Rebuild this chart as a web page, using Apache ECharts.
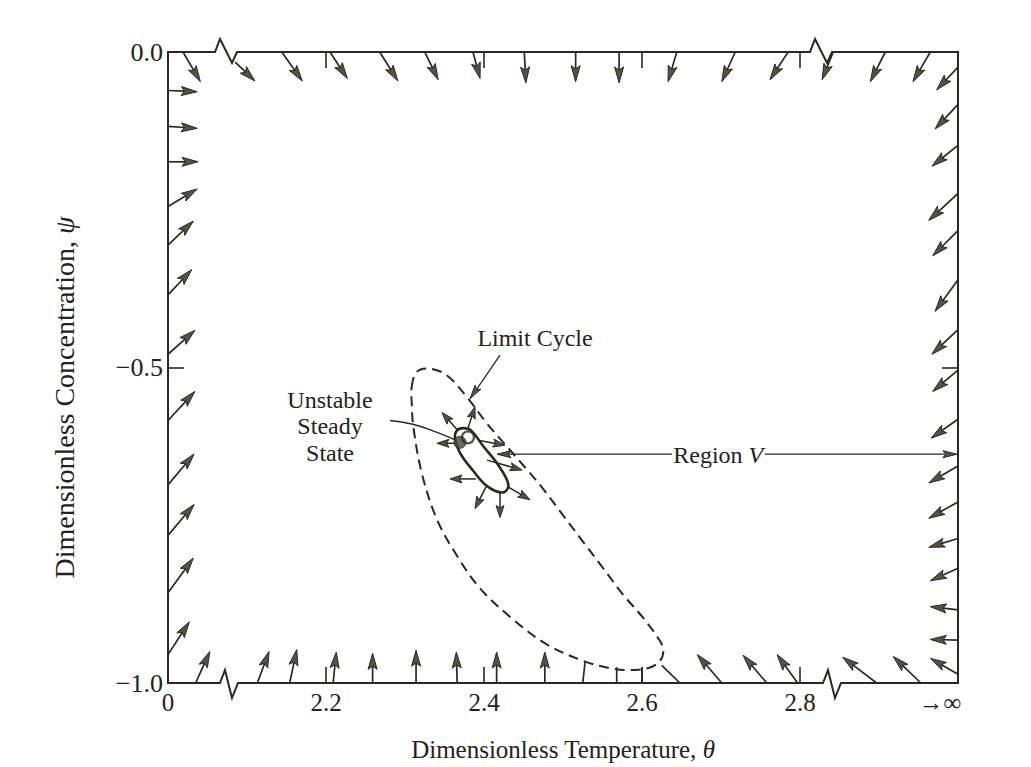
<!DOCTYPE html>
<html>
<head>
<meta charset="utf-8">
<script src="https://cdn.jsdelivr.net/npm/echarts@6/dist/echarts.min.js"></script>
<style>
  html, body { margin: 0; padding: 0; background: #ffffff; }
  #chart { width: 1031px; height: 767px; }
</style>
</head>
<body>
<div id="chart"></div>
<script>
// Phase plane of the reactor: dimensionless temperature θ against concentration ψ.
// The θ axis is broken: display value 2.0 stands for θ = 0, and 3.0 for θ → ∞.
const thetaTicks = [2.0, 2.2, 2.4, 2.6, 2.8, 3.0];
const thetaTickLabels = ['0', '2.2', '2.4', '2.6', '2.8', '→∞'];
const psiTicks = [0, -0.5, -1.0];
const psiTickLabels = ['0.0', '−0.5', '−1.0'];

// Where the θ axis is cut on the upper and lower edges (display units)
const topBreaks = [2.0595, 2.8127];
const bottomBreaks = [2.0658, 2.8291];

// Direction field on the boundary: [θ tail, ψ tail, θ head, ψ head]
const topArrows = [
  [2.019, 0, 2.041, -0.047],
  [2.085, -0.016, 2.110, -0.046],
  [2.144, 0, 2.170, -0.046],
  [2.205, 0, 2.227, -0.042],
  [2.268, 0, 2.291, -0.046],
  [2.325, 0, 2.342, -0.044],
  [2.386, 0, 2.395, -0.042],
  [2.451, 0, 2.453, -0.049],
  [2.516, 0, 2.516, -0.047],
  [2.571, 0, 2.571, -0.049],
  [2.644, 0, 2.633, -0.047],
  [2.718, 0, 2.701, -0.047],
  [2.785, 0, 2.762, -0.044],
  [2.842, 0, 2.828, -0.044],
  [2.908, 0, 2.889, -0.047],
  [2.965, 0, 2.943, -0.047]
];
const rightArrows = [
  [3.0, -0.024, 2.973, -0.060],
  [3.0, -0.083, 2.971, -0.122],
  [3.0, -0.148, 2.967, -0.181],
  [3.0, -0.224, 2.963, -0.267],
  [3.0, -0.283, 2.968, -0.323],
  [3.0, -0.361, 2.971, -0.411],
  [3.0, -0.440, 2.967, -0.479],
  [3.0, -0.504, 2.968, -0.538],
  [3.0, -0.582, 2.966, -0.612],
  [3.0, -0.656, 2.963, -0.683],
  [3.0, -0.713, 2.963, -0.739],
  [3.0, -0.771, 2.963, -0.785],
  [3.0, -0.818, 2.965, -0.838],
  [3.0, -0.884, 2.965, -0.879],
  [3.0, -0.932, 2.965, -0.931],
  [3.0, -0.986, 2.965, -0.961]
];
const leftArrows = [
  [2.0, -0.061, 2.037, -0.063],
  [2.0, -0.118, 2.037, -0.121],
  [2.0, -0.174, 2.038, -0.174],
  [2.0, -0.245, 2.037, -0.217],
  [2.0, -0.306, 2.032, -0.268],
  [2.0, -0.385, 2.030, -0.345],
  [2.0, -0.479, 2.034, -0.441],
  [2.0, -0.584, 2.034, -0.538],
  [2.0, -0.686, 2.033, -0.637],
  [2.0, -0.766, 2.033, -0.717],
  [2.0, -0.857, 2.032, -0.802],
  [2.0, -0.955, 2.027, -0.903]
];
const bottomArrows = [
  [2.035, -1, 2.053, -0.950],
  [2.113, -1, 2.128, -0.950],
  [2.154, -1, 2.163, -0.947],
  [2.209, -1, 2.213, -0.951],
  [2.259, -1, 2.259, -0.953],
  [2.314, -1, 2.314, -0.948],
  [2.366, -1, 2.365, -0.951],
  [2.416, -1, 2.416, -0.951],
  [2.477, -1, 2.477, -0.951],
  [2.701, -1, 2.670, -0.955],
  [2.758, -1, 2.728, -0.956],
  [2.797, -1, 2.771, -0.955],
  [2.897, -1, 2.854, -0.959],
  [2.953, -1, 2.918, -0.958]
];
// Trajectories from the lower edge that run into the limit cycle
const trajectoryEnds = [
  [2.525, -1, 2.528, -0.966],
  [2.568, -1, 2.568, -0.975],
  [2.600, -1, 2.600, -0.975],
  [2.648, -1, 2.625, -0.972]
];

// Limit cycle (closed orbit), traced clockwise from the upper tip
const limitCycle = [
  [2.3085, -0.5306], [2.3148, -0.5071], [2.3316, -0.5019], [2.3528, -0.5122],
  [2.3781, -0.5463], [2.4034, -0.5882], [2.4287, -0.6248], [2.4541, -0.6614],
  [2.4751, -0.6928], [2.5004, -0.7347], [2.5257, -0.7766], [2.5510, -0.8184],
  [2.5763, -0.8603], [2.6016, -0.8969], [2.6228, -0.9336], [2.6270, -0.9493],
  [2.6228, -0.9650], [2.6101, -0.9754], [2.5848, -0.9796], [2.5595, -0.9765],
  [2.5257, -0.9650], [2.4794, -0.9388], [2.4371, -0.8995], [2.3949, -0.8498],
  [2.3654, -0.7975], [2.3401, -0.7399], [2.3211, -0.6667], [2.3105, -0.5934],
  [2.3085, -0.5568]
];
// Small orbit around the unstable steady state (region V boundary)
const innerOrbit = [
  [2.3738, -0.5961], [2.3835, -0.5997], [2.3991, -0.6248], [2.4161, -0.6510],
  [2.4287, -0.6771], [2.4304, -0.6907], [2.4224, -0.6981], [2.4034, -0.6876],
  [2.3865, -0.6641], [2.3696, -0.6353], [2.3633, -0.6122], [2.3658, -0.5997]
];
const steadyState = [2.3696, -0.6185];
const steadyRing = [2.3797, -0.6107];

// Flow leaving the small orbit: [θ tail, ψ tail, θ head, ψ head]
const orbitArrows = [
  [2.3658, -0.5981, 2.3468, -0.5714],
  [2.3797, -0.5965, 2.3886, -0.5620],
  [2.3924, -0.6154, 2.4266, -0.6232],
  [2.4038, -0.6468, 2.4481, -0.6625],
  [2.3658, -0.6201, 2.3405, -0.6201],
  [2.3899, -0.6766, 2.3570, -0.6766],
  [2.4025, -0.6892, 2.3886, -0.7237],
  [2.4203, -0.6986, 2.4203, -0.7378],
  [2.4304, -0.6892, 2.4582, -0.7096]
];

// Callout pointers and labels
const pointerArrows = [
  [2.4203, -0.4804, 2.3823, -0.5495],
  [2.6380, -0.6374, 2.4165, -0.6374],
  [2.7557, -0.6374, 2.9987, -0.6374]
];
const steadyLeader = [[2.281, -0.584], [2.310, -0.590], [2.3405, -0.6028], [2.3646, -0.6154]];
const noteTexts = ['Limit Cycle', 'Unstable\nSteady\nState', 'Region {i|V}'];
const notePositions = [[2.4646, -0.4537], [2.2051, -0.5934], [2.6965, -0.6390]];

// ---- styling ----
const INK = '#2b2823';
const HEAD_FILL = '#57523f';
const SERIF = "'Liberation Serif', 'Times New Roman', serif";

function arrowRenderer(headLen, headWidth, lineWidth, withHead) {
  return function (params, api) {
    const a = api.coord([api.value(0), api.value(1)]);
    const b = api.coord([api.value(2), api.value(3)]);
    const dx = b[0] - a[0], dy = b[1] - a[1];
    const len = Math.hypot(dx, dy) || 1;
    const ux = dx / len, uy = dy / len;
    const nx = -uy, ny = ux;
    const children = [];
    if (!withHead) {
      children.push({ type: 'line', shape: { x1: a[0], y1: a[1], x2: b[0], y2: b[1] },
        style: { stroke: INK, lineWidth: lineWidth } });
      return { type: 'group', children: children };
    }
    const baseX = b[0] - ux * headLen, baseY = b[1] - uy * headLen;
    const notchX = b[0] - ux * headLen * 0.8, notchY = b[1] - uy * headLen * 0.8;
    children.push({ type: 'line', shape: { x1: a[0], y1: a[1], x2: notchX, y2: notchY },
      style: { stroke: INK, lineWidth: lineWidth } });
    children.push({
      type: 'polygon',
      shape: { points: [
        [b[0], b[1]],
        [baseX + nx * headWidth / 2, baseY + ny * headWidth / 2],
        [notchX, notchY],
        [baseX - nx * headWidth / 2, baseY - ny * headWidth / 2]
      ] },
      style: { fill: HEAD_FILL, stroke: INK, lineWidth: 1, lineJoin: 'round' }
    });
    return { type: 'group', children: children };
  };
}

// Frame with zig-zag cuts where the θ scale is interrupted
const zigTop = [[0, 0], [5, -13], [17, 11], [22, 0]];
const zigBottom = [[0, 0], [5, -13], [12, 15], [18, 0]];
function frameRenderer(params, api) {
  const tl = api.coord([2.0, 0]);
  const br = api.coord([3.0, -1]);
  const L = tl[0], T = tl[1], R = br[0], B = br[1];
  function edge(y, breaks, zig) {
    const pts = [[L, y]];
    breaks.forEach(function (t) {
      const x = api.coord([t, 0])[0];
      zig.forEach(function (o) { pts.push([x + o[0], y + o[1]]); });
    });
    pts.push([R, y]);
    return pts;
  }
  const st = { stroke: INK, lineWidth: 2, fill: null };
  return {
    type: 'group',
    children: [
      { type: 'polyline', shape: { points: edge(T, topBreaks, zigTop) }, style: st },
      { type: 'polyline', shape: { points: edge(B, bottomBreaks, zigBottom) }, style: st },
      { type: 'line', shape: { x1: L, y1: T - 1, x2: L, y2: B + 1 }, style: st },
      { type: 'line', shape: { x1: R, y1: T - 1, x2: R, y2: B + 1 }, style: st }
    ]
  };
}

function closedCurveRenderer(points, dash, width, smooth) {
  return function (params, api) {
    const px = points.map(function (p) { return api.coord(p); });
    return {
      type: 'polygon',
      shape: { points: px, smooth: smooth },
      style: { fill: null, stroke: INK, lineWidth: width, lineDash: dash }
    };
  };
}

function noteRenderer(params, api) {
  const p = api.coord([api.value(0), api.value(1)]);
  return {
    type: 'text',
    x: p[0], y: p[1],
    style: {
      text: noteTexts[params.dataIndex],
      fill: '#222',
      font: '24px ' + SERIF,
      align: 'center',
      verticalAlign: 'middle',
      lineHeight: 26.5,
      rich: { i: { fontStyle: 'italic', fontSize: 24, fontFamily: SERIF, fill: '#222' } }
    }
  };
}

function tickLabel(list, labels) {
  return function (v) {
    for (let i = 0; i < list.length; i++) {
      if (Math.abs(list[i] - v) < 1e-6) return labels[i];
    }
    return '';
  };
}

const chart = echarts.init(document.getElementById('chart'), null, { renderer: 'svg' });

const axisTick = { show: true, inside: true, length: 16, lineStyle: { color: INK, width: 1.6 } };
const hiddenLine = { show: false, onZero: false };
const thetaFmt = tickLabel(thetaTicks, thetaTickLabels);

chart.setOption({
  animation: false,
  backgroundColor: '#ffffff',
  grid: { left: 168, right: 73, top: 52, bottom: 78, containLabel: false },
  xAxis: [
    {
      type: 'value', position: 'bottom', min: 2.0, max: 3.0, interval: 0.2,
      axisLine: hiddenLine, splitLine: { show: false }, axisTick: axisTick,
      axisLabel: {
        margin: 7, color: '#222', fontSize: 25, fontFamily: SERIF,
        formatter: function (v) {
          const s = thetaFmt(v);
          return Math.abs(v - 3.0) < 1e-6 ? '{inf|' + s + '}' : s;
        },
        rich: { inf: { fontSize: 25, fontFamily: SERIF, color: '#222', padding: [0, 36, 0, 0] } }
      },
      name: '{r|Dimensionless Temperature, }{i|θ}',
      nameLocation: 'middle', nameGap: 54,
      nameTextStyle: {
        rich: {
          r: { fontSize: 25, fontFamily: SERIF, color: '#222' },
          i: { fontSize: 25, fontFamily: SERIF, color: '#222', fontStyle: 'italic' }
        }
      }
    },
    {
      type: 'value', position: 'top', min: 2.0, max: 3.0, interval: 0.2,
      axisLine: hiddenLine, splitLine: { show: false }, axisTick: axisTick,
      axisLabel: { show: false }
    }
  ],
  yAxis: [
    {
      type: 'value', position: 'left', min: -1.0, max: 0, interval: 0.5,
      axisLine: hiddenLine, splitLine: { show: false }, axisTick: axisTick,
      axisLabel: {
        margin: 5, color: '#222', fontSize: 26, fontFamily: SERIF,
        formatter: tickLabel(psiTicks, psiTickLabels)
      },
      name: '{r|Dimensionless Concentration, }{i|ψ}',
      nameLocation: 'middle', nameGap: 90, nameRotate: 90,
      nameTextStyle: {
        padding: [0, 60, 0, 0],
        rich: {
          r: { fontSize: 28, fontFamily: SERIF, color: '#222' },
          i: { fontSize: 28, fontFamily: SERIF, color: '#222', fontStyle: 'italic' }
        }
      }
    },
    {
      type: 'value', position: 'right', min: -1.0, max: 0, interval: 0.5,
      axisLine: hiddenLine, splitLine: { show: false }, axisTick: axisTick,
      axisLabel: { show: false }
    }
  ],
  series: [
    { type: 'custom', name: 'frame', silent: true, clip: false, data: [[2.0, 0]], renderItem: frameRenderer, z: 5 },
    { type: 'custom', name: 'top field', silent: true, clip: false, data: topArrows,
      encode: { x: [0, 2], y: [1, 3] }, renderItem: arrowRenderer(16, 9, 1.7, true) },
    { type: 'custom', name: 'right field', silent: true, clip: false, data: rightArrows,
      encode: { x: [0, 2], y: [1, 3] }, renderItem: arrowRenderer(16, 9, 1.7, true) },
    { type: 'custom', name: 'left field', silent: true, clip: false, data: leftArrows,
      encode: { x: [0, 2], y: [1, 3] }, renderItem: arrowRenderer(16, 9, 1.7, true) },
    { type: 'custom', name: 'bottom field', silent: true, clip: false, data: bottomArrows,
      encode: { x: [0, 2], y: [1, 3] }, renderItem: arrowRenderer(16, 9, 1.7, true) },
    { type: 'custom', name: 'trajectories', silent: true, clip: false, data: trajectoryEnds,
      encode: { x: [0, 2], y: [1, 3] }, renderItem: arrowRenderer(0, 0, 1.7, false) },
    { type: 'custom', name: 'limit cycle', silent: true, clip: false, data: [[2.4, -0.7]],
      renderItem: closedCurveRenderer(limitCycle, [10, 6], 2, 0.35) },
    { type: 'custom', name: 'inner orbit', silent: true, clip: false, data: [[2.4, -0.65]],
      renderItem: closedCurveRenderer(innerOrbit, null, 2.6, 0.4) },
    { type: 'custom', name: 'orbit flow', silent: true, clip: false, data: orbitArrows,
      encode: { x: [0, 2], y: [1, 3] }, renderItem: arrowRenderer(12, 8, 1.5, true) },
    { type: 'custom', name: 'pointers', silent: true, clip: false, data: pointerArrows,
      encode: { x: [0, 2], y: [1, 3] }, renderItem: arrowRenderer(14, 7, 1.3, true) },
    {
      type: 'scatter', name: 'steady state', silent: true, data: [steadyState],
      symbol: 'circle', symbolSize: 12, itemStyle: { color: '#4a4536', borderColor: INK, borderWidth: 1 }, z: 4
    },
    {
      type: 'scatter', name: 'steady ring', silent: true, data: [steadyRing],
      symbol: 'circle', symbolSize: 12, itemStyle: { color: 'rgba(255,255,255,0)', borderColor: INK, borderWidth: 2.2 }, z: 4
    },
    {
      type: 'line', name: 'leader', silent: true, data: steadyLeader, smooth: 0.5,
      symbol: 'none', lineStyle: { color: INK, width: 1.4 }
    },
    { type: 'custom', name: 'notes', silent: true, clip: false, data: notePositions,
      renderItem: noteRenderer, z: 6 }
  ]
});
</script>
</body>
</html>
